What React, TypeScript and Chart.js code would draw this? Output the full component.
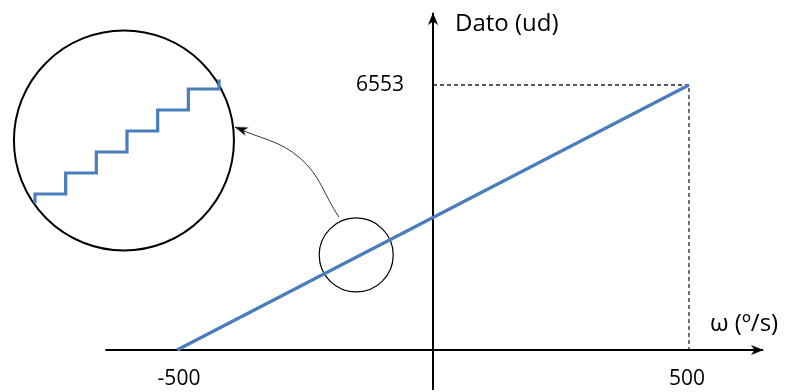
import React, { useEffect, useRef } from "react";
import { Chart, registerables } from "chart.js";

Chart.register(...registerables);

// ---- data ----
const lineX = [-500, 500];
const lineY = [0, 6553];
const xTickValues = [-500, 500];
const xTickLabels = ["-500", "500"];
const yTickValues = [6553];
const yTickLabels = ["6553"];
const xAxisTitle = "ω (º/s)";
const yAxisTitle = "Dato (ud)";
const xAxisExtent = [-640, 645];
const yAxisExtent = [-990, 8340];
const guideX = [0, 500, 500];
const guideY = [6553, 6553, 0];
const zoomCircleX = [-150];
const zoomCircleY = [2350];
const pointerX = [-184, -260, -387];
const pointerY = [3290, 4750, 5515];
// magnified inset (units = quantisation steps)
const stepX = [0, 0, 1, 2, 3, 4, 5, 6];
const stepY = [-0.45, 0, 1, 2, 3, 4, 5, 5.45];
const insetCircleX = [2.9];
const insetCircleY = [2.55];

const W = 790;
const H = 392;
const BLUE = "#4A7EBB";
const FONT = '"Open Sans", "Noto Sans", sans-serif';

function xRange(v0: number, p0: number, ppu: number) {
  const min = v0 - p0 / ppu;
  return { min, max: min + W / ppu };
}
function yRange(v0: number, p0: number, ppu: number) {
  const max = v0 + p0 / ppu;
  return { min: max - H / ppu, max };
}

function makeArrow(width: number, length: number, notch: number) {
  const c = document.createElement("canvas");
  c.width = Math.ceil(width) + 2;
  c.height = Math.ceil(length * 2);
  const g = c.getContext("2d")!;
  const cx = c.width / 2;
  g.fillStyle = "#000";
  g.beginPath();
  g.moveTo(cx, length);
  g.lineTo(cx + width / 2, 2 * length);
  g.lineTo(cx, 2 * length - notch);
  g.lineTo(cx - width / 2, 2 * length);
  g.closePath();
  g.fill();
  return c;
}

const pts = (xs: number[], ys: number[]) => xs.map((x, i) => ({ x, y: ys[i] }));

export default function App() {
  const ref = useRef<HTMLCanvasElement | null>(null);
  useEffect(() => {
    const canvas = ref.current!;
    const axisArrow = makeArrow(10, 12, 3);
    const smallArrow = makeArrow(9, 13, 3.5);

    const textPlugin = {
      id: "texts",
      afterDraw(chart: any) {
        const { ctx } = chart;
        const xs = chart.scales.x;
        const ys = chart.scales.y;
        const x0 = xs.getPixelForValue(0);
        const y0 = ys.getPixelForValue(0);
        ctx.save();
        ctx.fillStyle = "#000";
        ctx.font = `21px ${FONT}`;
        ctx.textBaseline = "middle";
        ctx.textAlign = "center";
        xTickValues.forEach((v, i) => {
          const off = v < 0 ? 2 : -2;
          ctx.fillText(xTickLabels[i], xs.getPixelForValue(v) + off, y0 + 29);
        });
        ctx.textAlign = "right";
        yTickValues.forEach((v, i) => {
          ctx.fillText(yTickLabels[i], x0 - 29, ys.getPixelForValue(v));
        });
        ctx.font = `24px ${FONT}`;
        ctx.textAlign = "left";
        ctx.fillText(yAxisTitle, x0 + 22, ys.getPixelForValue(yAxisExtent[1]) + 11);
        ctx.fillText(xAxisTitle, xs.getPixelForValue(xTickValues[1]) + 21, y0 - 26);
        ctx.restore();
      },
    };

    const chart = new Chart(canvas, {
      type: "scatter",
      data: {
        datasets: [
          {
            data: pts(lineX, lineY),
            showLine: true,
            borderColor: BLUE,
            borderWidth: 3.2,
            pointRadius: 0,
          },
          {
            data: pts(stepX, stepY),
            xAxisID: "x2",
            yAxisID: "y2",
            showLine: true,
            stepped: "before",
            borderColor: BLUE,
            borderWidth: 3.2,
            pointRadius: 0,
          },
          {
            data: pts(xAxisExtent.slice(1), [0]),
            pointStyle: axisArrow,
            rotation: 90,
            pointRadius: 1,
          },
          {
            data: pts(yAxisExtent.slice(1).map(() => 0), yAxisExtent.slice(1)),
            pointStyle: axisArrow,
            rotation: 0,
            pointRadius: 1,
          },
          {
            data: pts(pointerX.slice(2), pointerY.slice(2)),
            pointStyle: smallArrow,
            rotation: -69,
            pointRadius: 1,
          },
          {
            data: pts(xAxisExtent, [0, 0]),
            showLine: true,
            borderColor: "#000",
            borderWidth: 2,
            pointRadius: 0,
          },
          {
            data: pts([0, 0], yAxisExtent),
            showLine: true,
            borderColor: "#000",
            borderWidth: 2,
            pointRadius: 0,
          },
          {
            data: pts(guideX, guideY),
            showLine: true,
            borderColor: "#222",
            borderWidth: 1.3,
            borderDash: [4, 3],
            pointRadius: 0,
          },
          {
            data: pts(pointerX, pointerY),
            showLine: true,
            tension: 0.4,
            borderColor: "#333",
            borderWidth: 1,
            pointRadius: 0,
          },
          {
            data: pts(zoomCircleX, zoomCircleY),
            pointRadius: 37,
            pointBackgroundColor: "rgba(0,0,0,0)",
            pointBorderColor: "#000",
            pointBorderWidth: 1.2,
          },
          {
            data: pts(insetCircleX, insetCircleY),
            xAxisID: "x2",
            yAxisID: "y2",
            pointRadius: 110,
            pointBackgroundColor: "rgba(0,0,0,0)",
            pointBorderColor: "#000",
            pointBorderWidth: 2,
          },
        ] as any,
      },
      options: {
        responsive: false,
        maintainAspectRatio: false,
        animation: false,
        events: [],
        layout: { padding: 0, autoPadding: false },
        clip: false as any,
        plugins: { legend: { display: false }, tooltip: { enabled: false }, title: { display: false } },
        scales: {
          x: { type: "linear", display: false, ...xRange(-500, 177, 0.512) },
          y: { type: "linear", display: false, ...yRange(0, 350, 265 / 6553) },
          x2: { type: "linear", axis: "x", display: false, ...xRange(0, 35, 30.67) },
          y2: { type: "linear", axis: "y", display: false, ...yRange(0, 194, 21) },
        } as any,
      },
      plugins: [textPlugin],
    });
    return () => chart.destroy();
  }, []);

  return (
    <div style={{ position: "absolute", left: 0, top: 0, width: W, height: H, background: "#fff" }}>
      <canvas ref={ref} width={W} height={H} style={{ width: W, height: H, display: "block" }} />
    </div>
  );
}
